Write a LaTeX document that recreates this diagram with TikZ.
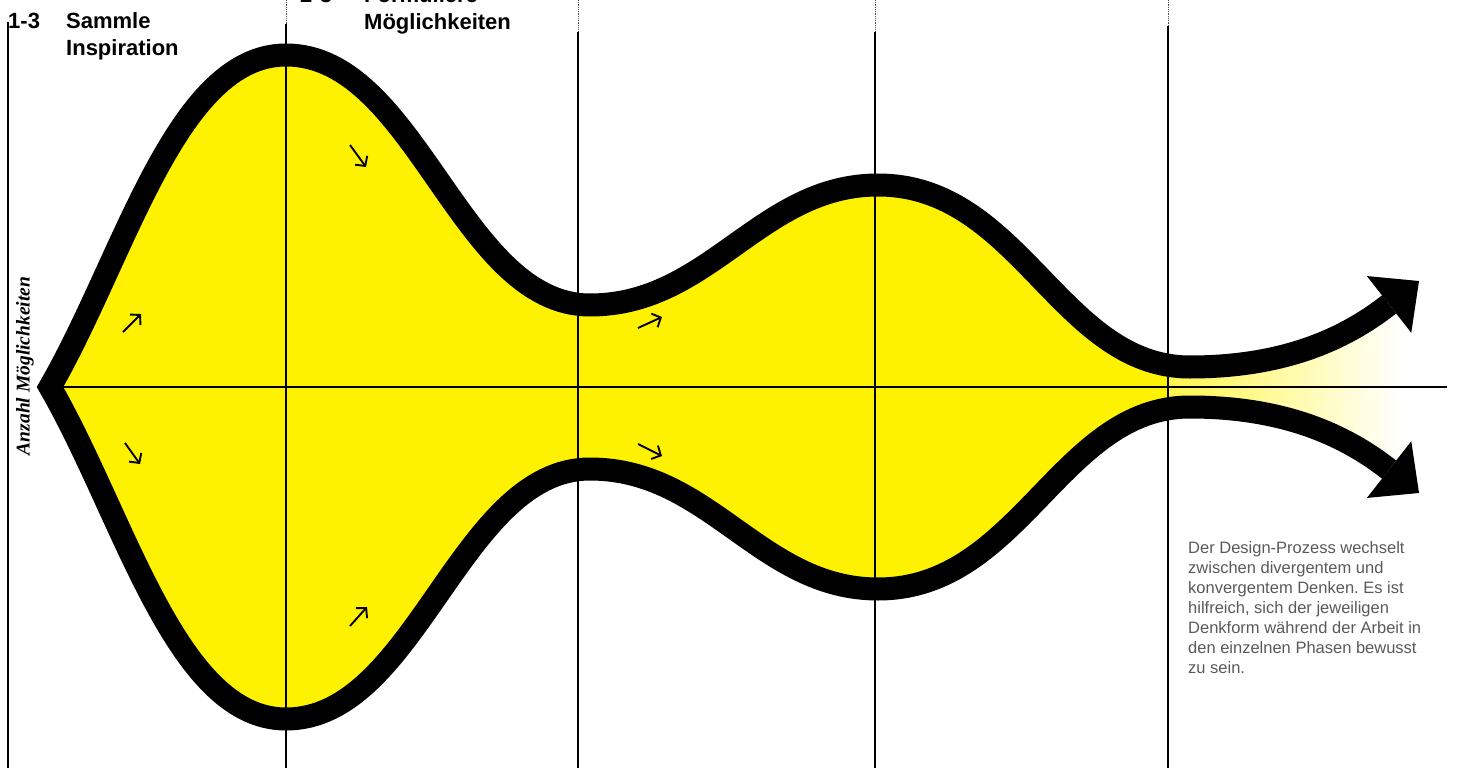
\documentclass[tikz,border=0pt]{standalone}
\usepackage{fontspec}
\setmainfont{Liberation Sans}
\newfontfamily\axisfont{Liberation Serif}
\usetikzlibrary{arrows.meta}
\definecolor{signal}{HTML}{FFF200}
\frenchspacing
\tikzset{
  phase/.style={draw=black, line width=2.5pt},
  phasetop/.style={draw=black!70, line width=0.8pt, densely dotted},
  axisline/.style={draw=black, line width=2.6pt},
  band/.style={draw=black, line width=23pt, line join=miter,
    {Triangle[length=38pt,width=72pt,line width=0pt]}-{Triangle[length=38pt,width=72pt,line width=0pt]}},
  hint/.style={line width=1.9pt, -{Straight Barb[length=7pt,width=15pt]}},
  steplabel/.style={font=\fontsize{22}{27}\selectfont\bfseries, inner sep=0pt, anchor=base west},
  note/.style={font=\fontsize{16.5}{20}\selectfont, text=black!65, align=left, inner sep=0pt, anchor=north west}
}
% edges of the funnel, in pixels of the page
\newcommand{\bottomcurve}{(1419,493) .. controls (1350,439) and (1290,407) .. (1190,407)
  .. controls (1060,407) and (1020,589) .. (878,589)
  .. controls (760,589) and (710,469) .. (590,469)
  .. controls (460,469) and (416,719) .. (286,719)
  .. controls (176,719) and (125,517) .. (50,387)}
\newcommand{\topcurve}{.. controls (125,257) and (176,55) .. (286,55)
  .. controls (416,55) and (460,305) .. (590,305)
  .. controls (710,305) and (760,185) .. (878,185)
  .. controls (1020,185) and (1060,367) .. (1190,367)
  .. controls (1290,367) and (1350,335) .. (1419,281)}

\begin{document}
\begin{tikzpicture}[x=1pt, y=-1pt]
  \useasboundingbox (0,0) rectangle (1460,768);
  \clip (0,0) rectangle (1460,768);

  % yellow body and fading exit
  \begin{scope}
    \clip (0,0) rectangle (1168,768);
    \fill[signal] \bottomcurve \topcurve -- cycle;
  \end{scope}
  \begin{scope}
    \clip \bottomcurve \topcurve -- cycle;
    \shade[left color=signal!70!white, right color=white] (1168,250) rectangle (1402,530);
  \end{scope}

  % phase lines
  \draw[phase] (8,22) -- (8,768);
  \draw[phasetop] (286,0) -- (286,24);
  \draw[phase] (286,24) -- (286,768);
  \draw[phasetop] (578,0) -- (578,32);
  \draw[phase] (578,32) -- (578,768);
  \draw[phasetop] (875,0) -- (875,32);
  \draw[phase] (875,32) -- (875,768);
  \draw[phasetop] (1168,0) -- (1168,26);
  \draw[phase] (1168,26) -- (1168,768);
  \draw[axisline] (40,387) -- (1447,387);

  % diverge / converge outline
  \draw[band] \bottomcurve \topcurve;

  \draw[hint] (123,332) -- (141,314);
  \draw[hint] (125,443) -- (140,464);
  \draw[hint] (350,145) -- (366,167);
  \draw[hint] (350,626) -- (367,607);
  \draw[hint] (638,328) -- (662,317);
  \draw[hint] (638,444) -- (662,456);

  \node[rotate=90, inner sep=0pt, font=\axisfont\bfseries\itshape\fontsize{19.5}{22}\selectfont] (axislabel) at (25,366) {Anzahl Möglichkeiten};

  \node[steplabel] (num1) at (8,29) {1-3};
  \node[steplabel] (sammle) at (66,29) {Sammle};
  \node[steplabel] (inspiration) at (66,56) {Inspiration};
  \node[steplabel] (num2) at (300,3) {2-3};
  \node[steplabel] (formuliere) at (364,3) {Formuliere};
  \node[steplabel] (moeglich) at (364,30) {Möglichkeiten};

  \node[note] (summary) at (1188,541) {Der Design-Prozess wechselt\\zwischen divergentem und\\konvergentem Denken. Es ist\\hilfreich, sich der jeweiligen\\Denkform während der Arbeit in\\den einzelnen Phasen bewusst\\zu sein.};
\end{tikzpicture}
\end{document}
